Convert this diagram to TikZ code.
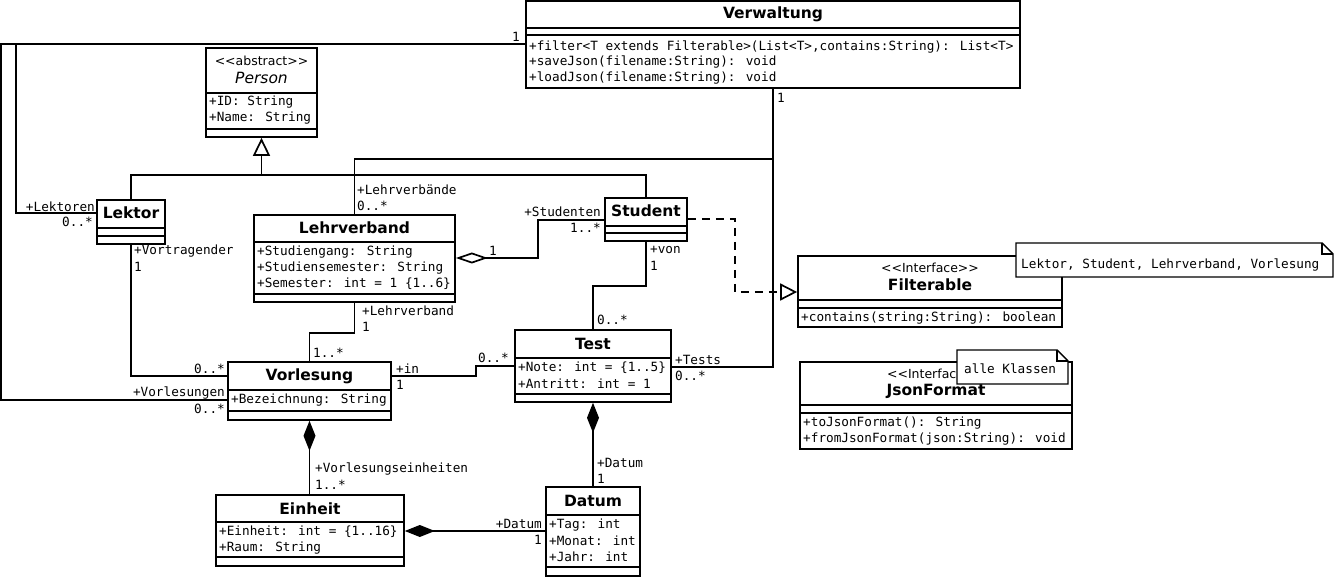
\documentclass[tikz,border=0pt]{standalone}
\usepackage{fontspec}
\setmainfont{DejaVu Sans}
\newfontfamily\dvmono{DejaVu Sans Mono}
\newfontfamily\dvsans{DejaVu Sans}
\usetikzlibrary{arrows.meta,fit}
\newcommand\fmono{\dvmono\fontsize{12.7}{15}\selectfont}
\newcommand\ftitle{\dvsans\bfseries\fontsize{15.5}{18}\selectfont}
\newcommand\fital{\dvsans\itshape\fontsize{15.5}{18}\selectfont}
\newcommand\fster{\dvsans\fontsize{12.5}{14}\selectfont}
\begin{document}
\begin{tikzpicture}[x=1pt,y=-1pt,
 cls/.style={draw, line width=1.7pt, fill=white, inner sep=0pt},
 cline/.style={line width=1.7pt},
 con/.style={line width=1.7pt},
 txt/.style={font=\fmono, inner sep=0pt, anchor=west},
 rtxt/.style={font=\fmono, inner sep=0pt, anchor=east},
 ttl/.style={font=\ftitle, inner sep=0pt},
 ster/.style={font=\fster, inner sep=0pt},
 notebox/.style={draw, line width=1.4pt, fill=white},
 gentip/.style={-{Triangle[open,length=18pt,width=17pt]}},
 aggtip/.style={{Diamond[open,length=32pt,width=11pt]}-},
 comptip/.style={{Diamond[length=30pt,width=12pt]}-},
]
\useasboundingbox (0,0) rectangle (1336,577);
\fill[white] (0,0) rectangle (1336,577);

% ---------- class boxes ----------
\node[cls, fit={(526,1)(1020,88)}] (ver) {};
\node[cls, fit={(206,48)(317,137)}] (per) {};
\node[cls, fit={(97,200)(165,244)}] (lek) {};
\node[cls, fit={(254,215)(455,302)}] (lv) {};
\node[cls, fit={(605,198)(687,241)}] (stu) {};
\node[cls, fit={(798,256)(1062,327)}] (fil) {};
\node[cls, fit={(515,330)(671,402)}] (tst) {};
\node[cls, fit={(228,362)(391,420)}] (vl) {};
\node[cls, fit={(800,362)(1072,449)}] (jf) {};
\node[cls, fit={(216,495)(404,566)}] (ein) {};
\node[cls, fit={(546,487)(640,576)}] (dat) {};

% compartment lines
\draw[cline] (ver.west|-0,28) -- (ver.east|-0,28);
\draw[cline] (ver.west|-0,35) -- (ver.east|-0,35);
\draw[cline] (per.west|-0,93) -- (per.east|-0,93);
\draw[cline] (per.west|-0,129) -- (per.east|-0,129);
\draw[cline] (lek.west|-0,228) -- (lek.east|-0,228);
\draw[cline] (lek.west|-0,236) -- (lek.east|-0,236);
\draw[cline] (lv.west|-0,242) -- (lv.east|-0,242);
\draw[cline] (lv.west|-0,294) -- (lv.east|-0,294);
\draw[cline] (stu.west|-0,226) -- (stu.east|-0,226);
\draw[cline] (stu.west|-0,233) -- (stu.east|-0,233);
\draw[cline] (fil.west|-0,300) -- (fil.east|-0,300);
\draw[cline] (fil.west|-0,308) -- (fil.east|-0,308);
\draw[cline] (tst.west|-0,358) -- (tst.east|-0,358);
\draw[cline] (tst.west|-0,394) -- (tst.east|-0,394);
\draw[cline] (vl.west|-0,390) -- (vl.east|-0,390);
\draw[cline] (vl.west|-0,411) -- (vl.east|-0,411);
\draw[cline] (jf.west|-0,405) -- (jf.east|-0,405);
\draw[cline] (jf.west|-0,413) -- (jf.east|-0,413);
\draw[cline] (ein.west|-0,522) -- (ein.east|-0,522);
\draw[cline] (ein.west|-0,557) -- (ein.east|-0,557);
\draw[cline] (dat.west|-0,515) -- (dat.east|-0,515);
\draw[cline] (dat.west|-0,567) -- (dat.east|-0,567);

% ---------- connectors ----------
\draw[con] (ver.west|-0,44) -| (16,213) -- (lek.west|-0,213);
\draw[con] (ver.west|-0,44) -| (1,400) -- (vl.west|-0,400);
\draw[con] (ver.south) |- (lv.north|-0,159) -- (lv.north);
\draw[con] (ver.south) |- (tst.east|-0,367);
\draw[con] (lek.north) |- (stu.north|-0,175) -- (stu.north);
\draw[con,gentip] (per.south|-0,175) -- (per.south);
\draw[con,aggtip] (lv.east|-0,258) -| (538,220) -- (stu.west|-0,220);
\draw[con, dash pattern=on 8pt off 6pt, -{Triangle[open,length=17pt,width=17pt]}] (stu.east|-0,219) -| (735,292) -- (fil.west|-0,292);
\draw[con] (stu.south) |- (tst.north|-0,286) -- (tst.north);
\draw[con] (lek.south) |- (vl.west|-0,376);
\draw[con] (lv.south) |- (vl.north|-0,333) -- (vl.north);
\draw[con] (vl.east|-0,376) -| (476,366) -- (tst.west|-0,366);
\draw[con,comptip] (vl.south) -- (vl.south|-ein.north);
\draw[con,comptip] (ein.east|-0,531) -- (dat.west|-0,531);
\draw[con,comptip] (tst.south) -- (tst.south|-dat.north);

% ---------- class texts ----------
\node[ttl] (tver) at (773,14) {Verwaltung};
\node[txt] (m1) at (529,47) {+filter<T extends Filterable>(List<T>,contains:String): List<T>};
\node[txt] (m2) at (529,62) {+saveJson(filename:String): void};
\node[txt] (m3) at (529,78) {+loadJson(filename:String): void};

\node[ster] (sper) at (261.5,61) {<<abstract>>};
\node[font=\fital, inner sep=0pt] (tper) at (261.5,78) {Person};
\node[txt] (a1) at (209,102) {+ID: String};
\node[txt] (a2) at (209,118) {+Name: String};

\node[ttl] (tlek) at (131,213) {Lektor};

\node[ttl] (tlv) at (354.5,228) {Lehrverband};
\node[txt] (a3) at (257,252) {+Studiengang: String};
\node[txt] (a4) at (257,268) {+Studiensemester: String};
\node[txt] (a5) at (257,284) {+Semester: int = 1 \{1..6\}};

\node[ttl] (tstu) at (646,211) {Student};

\node[ster] (sfil) at (930,268) {<<Interface>>};
\node[ttl] (tfil) at (930,285) {Filterable};
\node[txt] (m4) at (801,318) {+contains(string:String): boolean};

\node[ttl] (ttst) at (593,344) {Test};
\node[txt] (a6) at (518,368) {+Note: int = \{1..5\}};
\node[txt] (a7) at (518,384) {+Antritt: int = 1};

\node[ttl] (tvl) at (309.5,376) {Vorlesung};
\node[txt] (a8) at (231,400) {+Bezeichnung: String};

\node[ster] (sjf) at (936,374) {<<Interface>>};
\node[ttl] (tjf) at (936,391) {JsonFormat};
\node[txt] (m5) at (803,423) {+toJsonFormat(): String};
\node[txt] (m6) at (803,439) {+fromJsonFormat(json:String): void};

\node[ttl] (tein) at (310,509) {Einheit};
\node[txt] (a9) at (219,532) {+Einheit: int = \{1..16\}};
\node[txt] (a10) at (219,548) {+Raum: String};

\node[ttl] (tdat) at (593,501) {Datum};
\node[txt] (a11) at (549,525) {+Tag: int};
\node[txt] (a12) at (549,541) {+Monat: int};
\node[txt] (a13) at (549,557) {+Jahr: int};

% ---------- connector labels ----------
\node[txt] (l1) at (512,37) {1};
\node[txt] (l2) at (777,98) {1};
\node[rtxt] (l3) at (95,207) {+Lektoren};
\node[rtxt] (l4) at (93,222) {0..*};
\node[txt] (l5) at (134,251) {+Vortragender};
\node[txt] (l6) at (134,267) {1};
\node[txt] (l7) at (357,190) {+Lehrverbände};
\node[txt] (l8) at (357,206) {0..*};
\node[txt] (l9) at (489,251) {1};
\node[rtxt] (l10) at (601,212) {+Studenten};
\node[rtxt] (l11) at (601,228) {1..*};
\node[txt] (l12) at (650,250) {+von};
\node[txt] (l13) at (650,266) {1};
\node[txt] (l14) at (597,320) {0..*};
\node[txt] (l15) at (362,311) {+Lehrverband};
\node[txt] (l16) at (362,327) {1};
\node[txt] (l17) at (313,353) {1..*};
\node[rtxt] (l18) at (225,369) {0..*};
\node[txt] (l19) at (396,369) {+in};
\node[txt] (l20) at (396,385) {1};
\node[txt] (l21) at (478,358) {0..*};
\node[txt] (l22) at (675,360) {+Tests};
\node[txt] (l23) at (675,376) {0..*};
\node[rtxt] (l24) at (225,393) {+Vorlesungen};
\node[rtxt] (l25) at (225,409) {0..*};
\node[txt] (l26) at (315,469) {+Vorlesungseinheiten};
\node[txt] (l27) at (315,485) {1..*};
\node[rtxt] (l28) at (542,524) {+Datum};
\node[rtxt] (l29) at (542,540) {1};
\node[txt] (l30) at (597,463) {+Datum};
\node[txt] (l31) at (597,479) {1};

% ---------- notes ----------
\draw[notebox] (1016,243) -- (1322,243) -- (1333,254) -- (1333,277) -- (1016,277) -- cycle;
\draw[line width=1.1pt] (1322,243) -- (1322,254) -- (1333,254);
\node[txt] (n1) at (1021,265) {Lektor, Student, Lehrverband, Vorlesung};

\draw[notebox] (957,350) -- (1057,350) -- (1068,361) -- (1068,384) -- (957,384) -- cycle;
\draw[line width=1.1pt] (1057,350) -- (1057,361) -- (1068,361);
\node[txt] (n2) at (964,369) {alle Klassen};
\end{tikzpicture}
\end{document}
